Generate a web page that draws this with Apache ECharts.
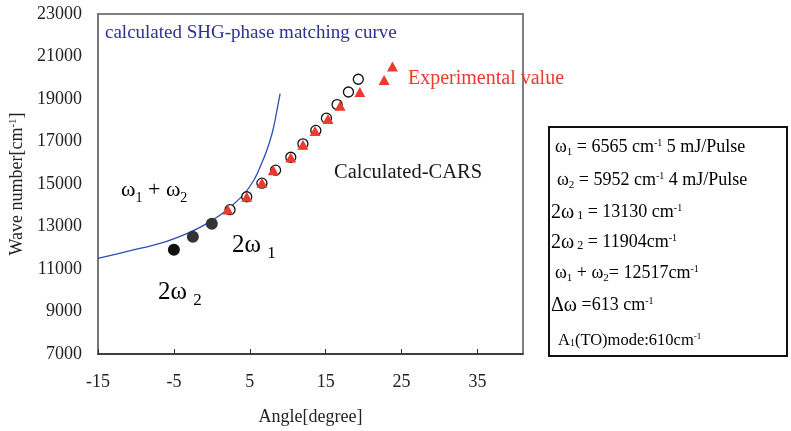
<!DOCTYPE html>
<html>
<head>
<meta charset="utf-8">
<script src="https://cdn.jsdelivr.net/npm/echarts@6/dist/echarts.min.js"></script>
<style>
  html, body { margin: 0; padding: 0; background: #fff; }
  #chart { width: 791px; height: 431px; }
</style>
</head>
<body>
<div id="chart"></div>
<script>
// Calculated SHG phase-matching curve (angle in degrees, wave number in cm-1)
const curveAngle = [-15, -11, -6.6, -3.1, -0.9, 1.5, 4.2, 5.7, 6.5, 7.2, 7.9, 8.3, 8.7, 9.0];
const curveWave  = [11500, 11840, 12230, 12700, 13090, 13645, 14510, 15290, 15920, 16540, 17330, 17950, 18700, 19250];

// Calculated CARS points (open circles)
const carsAngle = [2.4, 4.6, 6.6, 8.4, 10.4, 12.0, 13.7, 15.1, 16.5, 18.0, 19.3];
const carsWave  = [13790, 14400, 15040, 15650, 16260, 16890, 17520, 18100, 18740, 19330, 19930];

// Experimental values (red triangles)
const expAngle = [2.1, 4.6, 6.6, 8.1, 10.4, 12.0, 13.6, 15.3, 16.9, 19.5, 22.7, 23.8];
const expWave  = [13800, 14400, 15060, 15650, 16250, 16850, 17490, 18060, 18680, 19330, 19900, 20530];

// 2ω2, ω1+ω2, 2ω1 (filled circles)
const mixAngle = [-5, -2.5, 0];
const mixWave  = [11904, 12517, 13130];
const mixColor = ['#111111', '#333333', '#333333'];

// Axis settings
const xTicks = { min: -15, max: 41, interval: 10 };
const yTicks = { min: 7000, max: 23000, interval: 2000 };

const SERIF = "'Liberation Serif', 'Times New Roman', serif";
const INK = '#1a1a1a';

const zip = (a, b) => a.map((v, i) => [v, b[i]]);

// Rich-text styles: every token is top-aligned; subscripts are pushed down with top padding
function richSet(main, sub, sup, drop, big) {
  return {
    n:  { fontFamily: SERIF, fontSize: main, verticalAlign: 'top', color: INK },
    b:  { fontFamily: SERIF, fontSize: big, verticalAlign: 'top', color: INK },
    s:  { fontFamily: SERIF, fontSize: sub, verticalAlign: 'top', color: INK,
          padding: [Math.max(0, Math.round(main / 2 + drop - sub / 2)), 0, 0, 0] },
    p:  { fontFamily: SERIF, fontSize: sup, verticalAlign: 'top', color: INK }
  };
}

function label(x, centerY, text, main, sub, sup, drop, big) {
  return {
    type: 'text',
    x: x,
    y: centerY - main / 2,
    z: 100,
    style: {
      text: text,
      rich: richSet(main, sub, sup, drop, big || main + 3),
      align: 'left',
      verticalAlign: 'top'
    }
  };
}

// Parameter box contents
const boxLines = [
  label(555, 147, '{n|ω}{s|1}{n| = 6565 cm}{p|-1}{n| 5 mJ/Pulse}', 18, 11, 10, 5),
  label(557, 180, '{n|ω}{s|2}{n| = 5952 cm}{p|-1}{n| 4 mJ/Pulse}', 18, 11, 10, 5),
  label(551, 212, '{b|2ω}{s| 1}{n| = 13130 cm}{p|-1}', 18, 12, 10, 4, 20),
  label(551, 242, '{b|2ω}{s| 2}{n| = 11904cm}{p|-1}', 18, 12, 10, 4, 20),
  label(555, 273, '{n|ω}{s|1}{n| + ω}{s|2}{n|= 12517cm}{p|-1}', 18, 11, 10, 5),
  label(551, 305, '{b|Δω}{n| =613 cm}{p|-1}', 18, 11, 10, 5, 20),
  label(558, 340, '{n|A}{s|1}{n|(TO)mode:610cm}{p|-1}', 16.5, 10, 9, 4)
];

const chart = echarts.init(document.getElementById('chart'), null, { renderer: 'canvas' });

chart.setOption({
  animation: false,
  backgroundColor: '#ffffff',
  grid: {
    left: 98, right: 268, top: 14, bottom: 77,
    show: true, borderColor: '#808080', borderWidth: 2, backgroundColor: 'transparent'
  },
  xAxis: {
    type: 'value',
    min: xTicks.min, max: xTicks.max, interval: xTicks.interval,
    name: 'Angle[degree]',
    nameLocation: 'middle',
    nameGap: 54,
    nameTextStyle: { fontFamily: SERIF, fontSize: 18, color: '#222' },
    axisLine: { onZero: false, lineStyle: { color: '#2a2a2a', width: 1.6 } },
    axisTick: { inside: true, length: 5, lineStyle: { color: '#333', width: 1 } },
    splitLine: { show: false },
    axisLabel: { showMaxLabel: false, fontFamily: SERIF, fontSize: 18, color: '#222', margin: 19 }
  },
  yAxis: {
    type: 'value',
    min: yTicks.min, max: yTicks.max, interval: yTicks.interval,
    name: 'Wave number[cm{sup|-1}]',
    nameLocation: 'middle',
    nameGap: 66,
    nameTextStyle: {
      fontFamily: SERIF, fontSize: 18, color: '#222', verticalAlign: 'top',
      rich: {
        sup: { fontFamily: SERIF, fontSize: 11, color: '#222', verticalAlign: 'top' }
      }
    },
    axisLine: { onZero: false, lineStyle: { color: '#777', width: 2 } },
    axisTick: { show: false },
    splitLine: { show: false },
    axisLabel: {
      fontFamily: SERIF, fontSize: 18, color: '#222', margin: 16,
      formatter: (v) => String(v)
    }
  },
  series: [
    {
      name: 'calculated SHG-phase matching curve',
      type: 'line',
      data: zip(curveAngle, curveWave),
      smooth: 0.4,
      showSymbol: false,
      lineStyle: { color: '#2b4fb3', width: 1.3 },
      z: 2
    },
    {
      name: 'Calculated-CARS',
      type: 'scatter',
      data: zip(carsAngle, carsWave),
      symbol: 'circle',
      symbolSize: 10,
      itemStyle: { color: '#ffffff', borderColor: '#111', borderWidth: 1.3, opacity: 1 },
      z: 3
    },
    {
      name: 'Experimental value',
      type: 'scatter',
      data: zip(expAngle, expWave),
      symbol: 'triangle',
      symbolSize: [11, 10],
      itemStyle: { color: '#ec3a2f', opacity: 1 },
      z: 4
    },
    {
      name: 'mixing',
      type: 'scatter',
      data: mixAngle.map((a, i) => ({ value: [a, mixWave[i]], itemStyle: { color: mixColor[i] } })),
      symbol: 'circle',
      symbolSize: 12,
      itemStyle: { opacity: 1 },
      z: 5
    }
  ],
  graphic: [
    {
      type: 'text', x: 105, y: 33, z: 100,
      style: { text: 'calculated SHG-phase matching curve', fontFamily: SERIF, fontSize: 19, fill: '#2e3192', verticalAlign: 'middle' }
    },
    {
      type: 'text', x: 408, y: 79, z: 100,
      style: { text: 'Experimental value', fontFamily: SERIF, fontSize: 20, fill: '#ec3a2f', verticalAlign: 'middle' }
    },
    {
      type: 'text', x: 334, y: 173, z: 100,
      style: { text: 'Calculated-CARS', fontFamily: SERIF, fontSize: 20.5, fill: INK, verticalAlign: 'middle' }
    },
    label(121, 190, '{n|ω}{s|1}{n| + ω}{s|2}', 22, 14, 10, 8),
    label(232, 245, '{n|2ω }{s|1}', 25, 17, 10, 9),
    label(158, 292, '{n|2ω }{s|2}', 25, 17, 10, 9),
    {
      type: 'rect', z: 90,
      shape: { x: 549, y: 127, width: 238, height: 229 },
      style: { fill: '#ffffff', stroke: '#111', lineWidth: 2 }
    }
  ].concat(boxLines)
});
</script>
</body>
</html>
